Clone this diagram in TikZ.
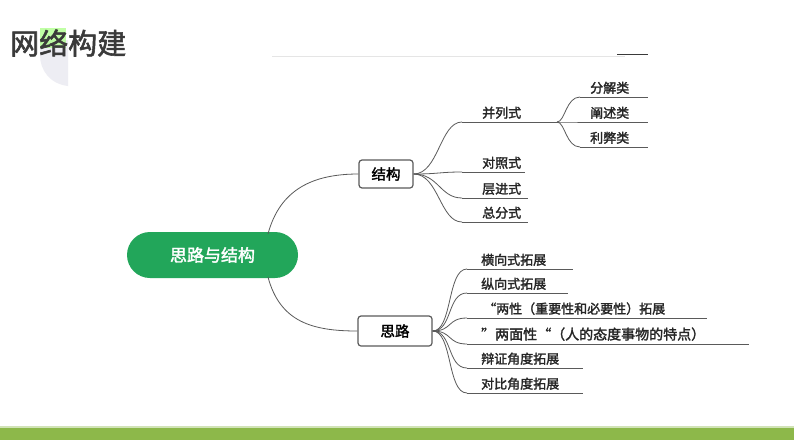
\documentclass[tikz,border=0pt]{standalone}
\usepackage{fontspec}
\setmainfont{Noto Sans CJK SC}
\newfontfamily\cjkb{Noto Sans CJK SC}[FakeBold=2]
\definecolor{pillgreen}{HTML}{22A65A}
\definecolor{bandgreen}{HTML}{8DB84A}
\definecolor{titlegray}{HTML}{3A3A3A}
\definecolor{linegray}{HTML}{5A5A5A}
\begin{document}
\begin{tikzpicture}[x=1pt,y=-1pt,
  lnk/.style={draw=linegray,line width=0.8pt},
  lbl/.style={anchor=south west,inner sep=1pt,font=\cjkb\fontsize{13}{15}\selectfont,text=black!85},
  boxnode/.style={draw=linegray,line width=1.2pt,rounded corners=3pt,minimum height=28pt,font=\cjkb\fontsize{14.5}{16}\selectfont,inner xsep=8pt}]
\useasboundingbox (0,0) rectangle (794,447);
\fill[white] (0,0) rectangle (794,447);
% title blob
\fill[blue!20!gray!12] (40,40) -- (68,40) -- (68,86) .. controls (50,84) and (40,70) .. (40,55) -- cycle;
\fill[green!60!lime!50,opacity=0.7] (40,28) rectangle (66,48);
\node[anchor=west,inner sep=0pt,font=\cjkb\fontsize{29}{31}\selectfont,text=titlegray] (title) at (10,43) {网络构建};
\coordinate (tl1) at (272,56); \coordinate (tl2) at (625,56);
\draw[gray!20,line width=0.6pt] (tl1) -- (tl2);
\coordinate (tl3) at (617,54); \coordinate (tl4) at (648,54);
\draw[titlegray,line width=0.8pt] (tl3) -- (tl4);
% bottom band
\fill[bandgreen] (0,428) rectangle (794,440);
\fill[bandgreen!40] (0,426) rectangle (794,428);
% central node
\node[fill=pillgreen,rounded corners=23pt,minimum width=171pt,minimum height=46pt,text=white,font=\cjkb\fontsize{17}{19}\selectfont] (root) at (212.5,255) {思路与结构};
\node[boxnode,minimum width=54pt] (jg) at (386,174) {结构};
\node[boxnode,minimum width=74pt,minimum height=30pt] (sl) at (395,331) {思路};
\coordinate (rt) at (268,234);
\coordinate (rb) at (268,277);
\draw[lnk] (rt) .. controls +(12,-45) and +(-45,0) .. (jg.west);
\draw[lnk] (rb) .. controls +(12,45) and +(-45,0) .. (sl.west);
% 结构 children
\coordinate (jgA) at (462,122); \coordinate (jgAe) at (557,122);
\coordinate (jgB) at (462,172); \coordinate (jgBe) at (525,172);
\coordinate (jgC) at (462,198); \coordinate (jgCe) at (528,198);
\coordinate (jgD) at (462,222); \coordinate (jgDe) at (528,222);
\foreach \c in {A,B,C,D}{
  \draw[lnk] (jg.east) .. controls +(25,0) and +(-22,0) .. (jg\c);
  \draw[lnk] (jg\c) -- (jg\c e);
}
\node[lbl] (nA) at (481,120) {并列式};
\node[lbl] (nB) at (481,170) {对照式};
\node[lbl] (nC) at (481,196) {层进式};
\node[lbl] (nD) at (481,220) {总分式};
% 并列式 children
\coordinate (bA) at (580,97); \coordinate (bAe) at (648,97);
\coordinate (bB) at (580,122); \coordinate (bBe) at (648,122);
\coordinate (bC) at (580,147); \coordinate (bCe) at (648,147);
\foreach \c in {A,B,C}{
  \draw[lnk] (jgAe) .. controls +(8,0) and +(-14,0) .. (b\c);
  \draw[lnk] (b\c) -- (b\c e);
}
\node[lbl] (mA) at (589,95) {分解类};
\node[lbl] (mB) at (589,120) {阐述类};
\node[lbl] (mC) at (589,145) {利弊类};
% 思路 children
\coordinate (sA) at (467,269); \coordinate (sAe) at (573,269);
\coordinate (sB) at (467,293); \coordinate (sBe) at (568,293);
\coordinate (sC) at (467,318); \coordinate (sCe) at (707,318);
\coordinate (sD) at (467,344); \coordinate (sDe) at (749,344);
\coordinate (sE) at (467,368); \coordinate (sEe) at (583,368);
\coordinate (sF) at (467,393); \coordinate (sFe) at (583,393);
\foreach \c in {A,B,C,D,E,F}{
  \draw[lnk] (sl.east) .. controls +(20,0) and +(-20,0) .. (s\c);
  \draw[lnk] (s\c) -- (s\c e);
}
\node[lbl] (tA) at (480,267) {横向式拓展};
\node[lbl] (tB) at (480,291) {纵向式拓展};
\node[lbl] (tC) at (482,316) {“两性（重要性和必要性）拓展};
\node[lbl,font=\cjkb\fontsize{14}{16}\selectfont] (tD) at (480,342) {”两面性“（人的态度事物的特点）};
\node[lbl] (tE) at (480,366) {辩证角度拓展};
\node[lbl] (tF) at (480,391) {对比角度拓展};
\end{tikzpicture}
\end{document}
